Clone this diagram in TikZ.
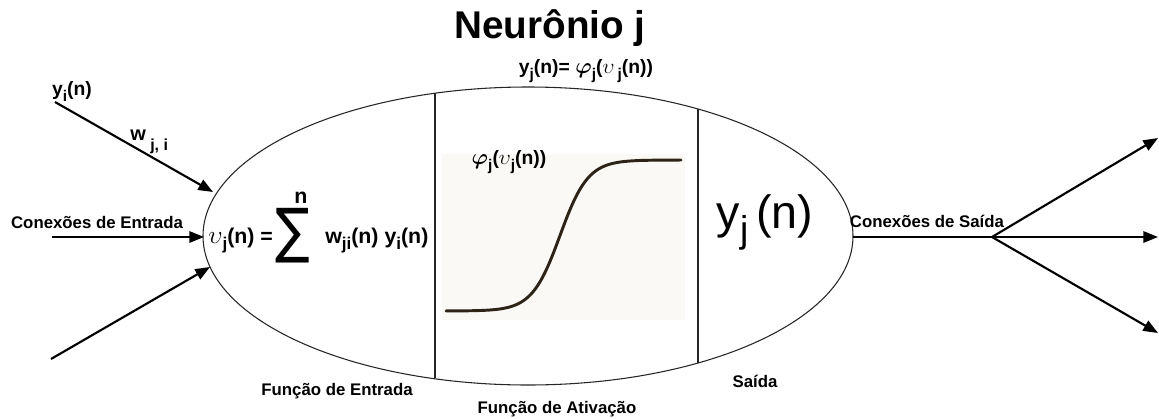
\documentclass[tikz,border=0pt]{standalone}
\usepackage{amsmath}
\usepackage{graphicx}
\usepackage{fontspec}
\setmainfont{Liberation Sans}
\newfontfamily\dvfont{DejaVu Sans}
\usetikzlibrary{arrows.meta}
\definecolor{sigcol}{RGB}{45,35,22}
\definecolor{boxbg}{RGB}{250,249,246}
\newcommand\lsub[1]{\raisebox{-0.32em}{\scalebox{0.8}{#1}}}
\newcommand\vphi{\scalebox{1.15}{$\boldsymbol{\varphi}$}}
\newcommand\vups{\scalebox{1.1}{$\upsilon$}}
\begin{document}
\begin{tikzpicture}[x=0.75pt,y=-0.75pt,
  lbl/.style={font=\bfseries\fontsize{12.6}{14}\selectfont, inner sep=0pt, anchor=base},
  frm/.style={font=\bfseries\fontsize{14.5}{16}\selectfont, inner sep=0pt, anchor=base},
  eqn/.style={font=\bfseries\fontsize{16}{18}\selectfont, inner sep=0pt, anchor=base west},
  ttl/.style={font=\bfseries\fontsize{29}{32}\selectfont, inner sep=0pt, anchor=base},
  big/.style={font=\fontsize{35}{40}\selectfont, inner sep=0pt, anchor=base},
  conn/.style={line width=1.6pt, -{Triangle[length=11pt,width=8.5pt]}},
  plain/.style={line width=1.6pt},
  thinl/.style={line width=0.8pt, black!85}]
\useasboundingbox (0,0) rectangle (1159,418);
% neuron body
\draw[thinl] (528,236) ellipse [x radius=325, y radius=149];
\draw[thinl] (435,93) -- (435,378);
\draw[thinl] (698,109) -- (698,363);
% activation plot
\fill[boxbg] (442,154) rectangle (685,320);
\draw[line width=2.2pt, sigcol, line cap=round]
  plot[domain=446:681, samples=120] (\x,{311-151/(1+exp(-(\x-560)/14))});
\node[frm] (phil) at (509,164) {\vphi\lsub{j}(\vups\lsub{j}(n))};
% title and formula
\node[ttl] (title) at (550,38) {Neurônio j};
\node[frm] (yjdef) at (586,73) {y\lsub{j}(n)= \vphi\lsub{j}(\vups\,\lsub{j}(n))};
% input function
\node[eqn] (vj) at (208,243) {\vups\lsub{j}(n) =};
\node[inner sep=0pt] (sig) at (292.5,236) {\resizebox*{26pt}{41pt}{\dvfont ∑}};
\node[eqn, anchor=base] (sn) at (301,203) {n};
\node[eqn] (wsum) at (325,243) {w\lsub{ji}(n) y\lsub{i}(n)};
% output value
\node[big] (yjbig) at (765,228) {y\lsub{j}\,(n)};
% input side
\node[frm] (yi) at (72,95) {y\lsub{i}(n)};
\node[font=\bfseries\fontsize{15}{17}\selectfont, inner sep=0pt, anchor=base west] (w) at (130,140) {w};
\node[font=\bfseries\fontsize{12}{14}\selectfont, inner sep=0pt, anchor=base west] (wsub) at (150,150) {j, i};
\node[lbl] (inlabel) at (97,228) {Conexões de Entrada};
\coordinate (a1s) at (55,102);  \coordinate (a1e) at (213,192);
\coordinate (a2s) at (52,237);  \coordinate (a2e) at (204,237);
\coordinate (a3s) at (51,359);  \coordinate (a3e) at (210,267);
\draw[conn] (a1s) -- (a1e);
\draw[conn] (a2s) -- (a2e);
\draw[conn] (a3s) -- (a3e);
% output side
\node[lbl] (outlabel) at (927,227) {Conexões de Saída};
\coordinate (os) at (853,237);
\coordinate (fork) at (992,237);
\coordinate (o1) at (1158,138);
\coordinate (o2) at (1158,237);
\coordinate (o3) at (1158,333);
\draw[plain] (os) -- (fork);
\draw[conn] (fork) -- (o1);
\draw[conn] (fork) -- (o2);
\draw[conn] (fork) -- (o3);
% bottom labels
\node[lbl] (fentrada) at (337,395) {Função de Entrada};
\node[lbl] (fativ) at (557,413) {Função de Ativação};
\node[lbl] (saida) at (755,387) {Saída};
\end{tikzpicture}
\end{document}
